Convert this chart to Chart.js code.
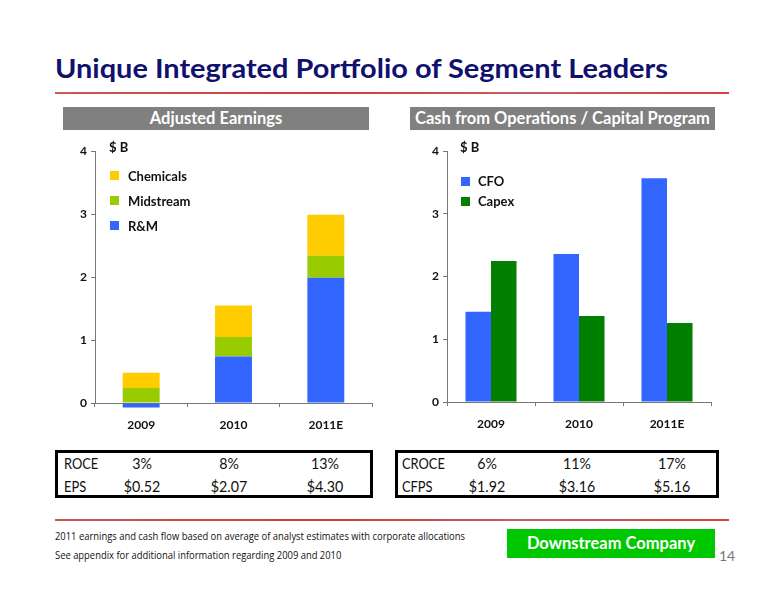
<!DOCTYPE html>
<html><head><meta charset="utf-8">
<script src="https://cdn.jsdelivr.net/npm/chart.js@4"></script>
<style>
html,body{margin:0;padding:0;background:#fff;}
body{width:776px;height:600px;position:relative;overflow:hidden;font-family:Lato,"Open Sans",sans-serif;}
.abs{position:absolute;}
#title{left:55px;top:55px;font-size:26px;line-height:26px;font-weight:bold;color:#10106e;white-space:nowrap;transform-origin:left top;}
.rule{height:2px;background:linear-gradient(to right,#c65a58,#d43a3a 40%,#c06060 70%,#d84040);}
.hdr{background:#808080;color:#fff;font-weight:bold;font-size:16.5px;text-align:center;line-height:23px;height:23px;}
.unit{font-weight:bold;font-size:13px;color:#111;}
.leg{font-weight:bold;font-size:13px;color:#111;}
.leg div{display:flex;align-items:center;}
.leg span.sw{display:inline-block;width:9px;height:9px;}
.tbox{position:absolute;border:3px solid #000;box-sizing:border-box;}
.cell{position:absolute;font-size:15.5px;line-height:16px;color:#111;white-space:nowrap;}
#foot{left:55px;top:527px;font-size:10px;color:#111;line-height:19px;font-family:"Open Sans",sans-serif;transform-origin:left top;white-space:nowrap;}
#ds{left:507px;top:529px;width:208px;height:29px;background:#00c800;color:#fff;font-weight:bold;font-size:16.5px;text-align:center;line-height:29px;}
#pg{left:719px;top:547px;font-size:14px;color:#777;}
</style></head><body>
<div id="title" class="abs">Unique Integrated Portfolio of Segment Leaders</div>
<div class="abs rule" style="left:55px;top:92px;width:674px;"></div>
<div class="abs hdr" style="left:63px;top:107px;width:306px;">Adjusted Earnings</div>
<div class="abs hdr" style="left:410px;top:107px;width:305px;">Cash from Operations / Capital Program</div>

<canvas id="c1" class="abs" style="left:60px;top:140px;" width="320" height="300"></canvas>
<canvas id="c2" class="abs" style="left:410px;top:140px;" width="320" height="300"></canvas>
<div class="abs unit" style="left:109px;top:139px;">$ B</div>
<div class="abs unit" style="left:460px;top:139px;">$ B</div>
<div id="leg1" class="abs leg" style="left:110px;top:163px;"></div>
<div id="leg2" class="abs leg" style="left:461px;top:171px;"></div>

<div class="tbox" style="left:55px;top:450px;width:318px;height:48px;"></div>
<div class="tbox" style="left:395px;top:450px;width:324px;height:48px;"></div>
<div id="tcells"></div>

<div class="abs rule" style="left:55px;top:519px;width:674px;"></div>
<div id="foot" class="abs">2011 earnings and cash flow based on average of analyst estimates with corporate allocations<br>See appendix for additional information regarding 2009 and 2010</div>
<div id="ds" class="abs">Downstream Company</div>
<div id="pg" class="abs">14</div>

<script>
// ---- data ----
const years = ["2009", "2010", "2011E"];
const rmValues = [-0.07, 0.74, 1.99];
const midstreamValues = [0.24, 0.31, 0.35];
const chemicalsValues = [0.24, 0.50, 0.65];
const cfoValues = [1.44, 2.36, 3.57];
const capexValues = [2.25, 1.37, 1.26];
const yTicks = [0, 1, 2, 3, 4];
const leftRowLabels = ["ROCE", "EPS"];
const roceValues = ["3%", "8%", "13%"];
const epsValues = ["$0.52", "$2.07", "$4.30"];
const rightRowLabels = ["CROCE", "CFPS"];
const croceValues = ["6%", "11%", "17%"];
const cfpsValues = ["$1.92", "$3.16", "$5.16"];

// fit text widths
function fitW(id,target){const t=document.getElementById(id);const w=t.getBoundingClientRect().width;t.style.transform='scaleX('+(target/w)+')';}
fitW('title',613);
fitW('foot',410);

const BLUE="#3366FF", LIME="#99CC00", YEL="#FFCC00", GRN="#007F00";
const tickFont={family:"Lato, 'Open Sans', sans-serif",size:12,weight:"bold"};

function makeChart(id, datasets, stacked, yw, xh, pad, catPct){
  return new Chart(document.getElementById(id),{
    type:"bar",
    data:{labels:years,datasets:datasets},
    options:{
      responsive:false,animation:false,
      layout:{padding:pad},
      plugins:{legend:{display:false},tooltip:{enabled:false}},
      datasets:{bar:{categoryPercentage:catPct,barPercentage:1,clip:false,borderWidth:0}},
      scales:{
        x:{stacked:stacked,
           grid:{offset:true,drawOnChartArea:false,drawTicks:true,tickLength:4,color:"#777"},
           border:{color:"#777",width:1},
           ticks:{font:tickFont,color:"#111",padding:11},
           afterFit:s=>{s.height=xh;}},
        y:{stacked:stacked,min:0,max:4,
           afterBuildTicks:s=>{s.ticks=yTicks.map(v=>({value:v}));},
           grid:{drawOnChartArea:false,drawTicks:true,tickLength:4,color:"#777"},
           border:{color:"#777",width:1},
           ticks:{font:tickFont,color:"#111",padding:4},
           afterFit:s=>{s.width=yw;}}
      }
    }
  });
}

const ds1=[
  {label:"R&M",data:rmValues,backgroundColor:BLUE},
  {label:"Midstream",data:midstreamValues,backgroundColor:LIME},
  {label:"Chemicals",data:chemicalsValues,backgroundColor:YEL}
];
makeChart("c1",ds1,true,35,37,{top:7,right:8,left:0,bottom:0},0.4);
const ds2=[
  {label:"CFO",data:cfoValues,backgroundColor:BLUE},
  {label:"Capex",data:capexValues,backgroundColor:GRN}
];
makeChart("c2",ds2,false,37,38,{top:9,right:19,left:0,bottom:0},0.58);

function legend(id,ds,rowH,gap){
  document.getElementById(id).innerHTML=ds.map(d=>'<div style="height:'+rowH+'px"><span class="sw" style="background:'+d.backgroundColor+';margin-right:'+gap+'px"></span>'+d.label+'</div>').join('');
}
legend("leg1",ds1.slice().reverse(),25,9);
legend("leg2",ds2,20,8);

// tables: row label left x, value column centers, row center y
function tableCells(labels,rows,labelX,centers,rowY){
  let h='';
  labels.forEach((l,i)=>{
    h+='<div class="cell" style="left:'+labelX+'px;top:'+(rowY[i]-8)+'px;transform:scaleX(0.83);transform-origin:left center">'+l+'</div>';
    rows[i].forEach((v,j)=>{
      h+='<div class="cell" style="left:'+(centers[j]-50)+'px;width:100px;text-align:center;top:'+(rowY[i]-8)+'px;transform:scaleX(0.92)">'+v+'</div>';
    });
  });
  return h;
}
document.getElementById('tcells').innerHTML=
  tableCells(leftRowLabels,[roceValues,epsValues],64,[142,229,325],[463,486])+
  tableCells(rightRowLabels,[croceValues,cfpsValues],402,[487,577,672],[463,486]);
</script>
</body></html>
